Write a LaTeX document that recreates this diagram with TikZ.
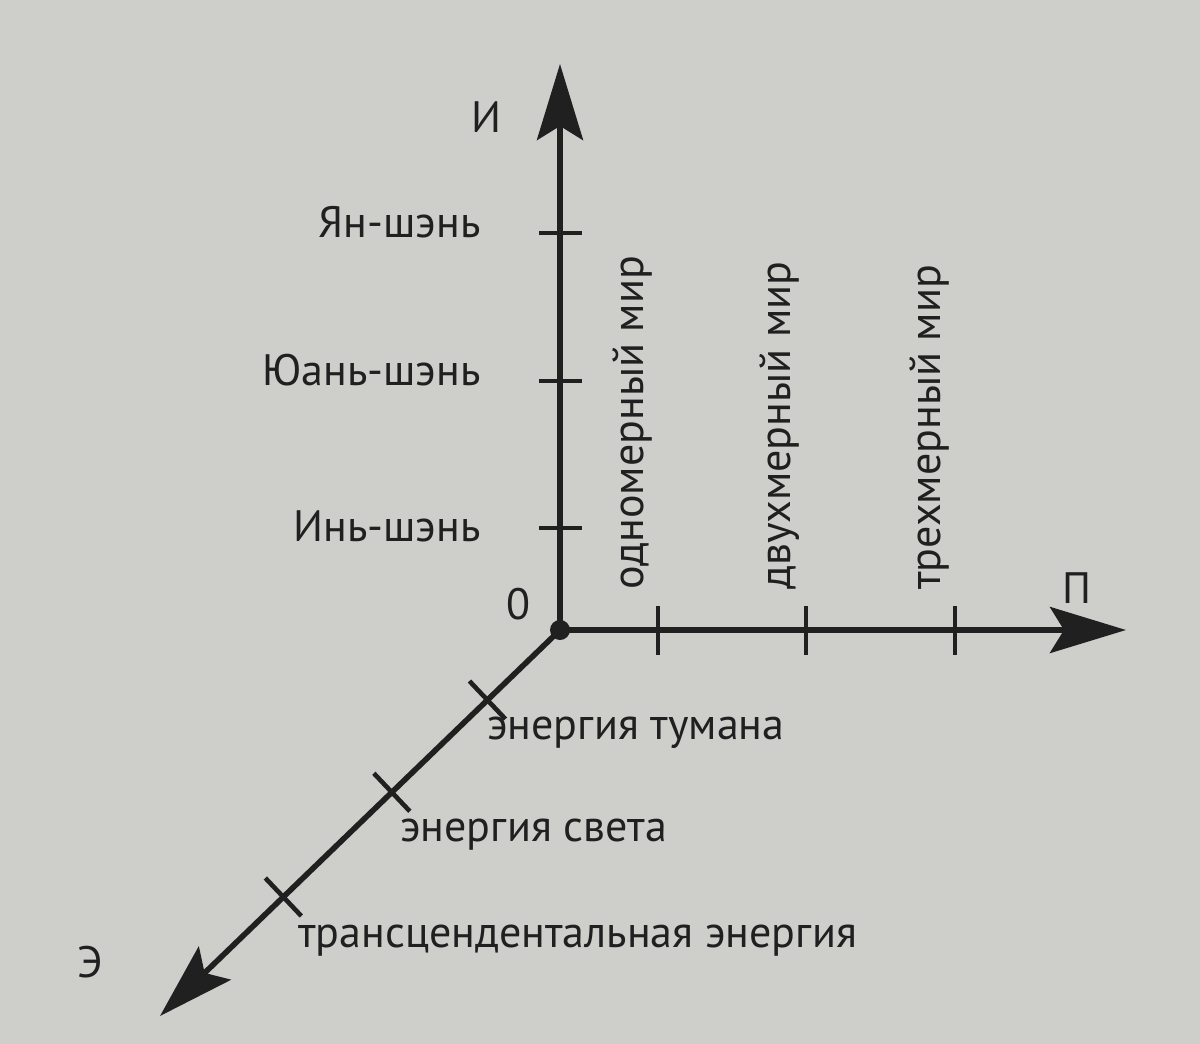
\documentclass[tikz,border=0pt]{standalone}
\usepackage{fontspec}
\setmainfont{PT Sans}
\usetikzlibrary{arrows.meta, positioning, calc}

\begin{document}
\begin{tikzpicture}[
		x=0.5pt, y=-0.5pt,
		>={Stealth[length=38pt, width=23pt, inset=7pt]},
		axis/.style={draw=ink, line width=2.8pt, ->},
		tick/.style={draw=ink, line width=2.3pt},
		lbl/.style={text=ink, inner sep=0pt, font=\fontsize{22}{26}\selectfont},
		dot/.style={circle, fill=ink, inner sep=0pt, minimum size=10pt}]

	\definecolor{ink}{RGB}{32,32,32}
	\definecolor{paper}{RGB}{206,206,203}
	\fill[paper] (0,0) rectangle (1200,1044);
	\useasboundingbox (0,0) rectangle (1200,1044);

	% axes
	\node[dot] (origin) at (560,630) {};
	\coordinate (itip) at (560,64);
	\coordinate (ptip) at (1126,630);
	\coordinate (etip) at (160,1016);
	\draw[axis] (origin.center) -- (itip);
	\draw[axis] (origin.center) -- (ptip);
	\draw[axis] (origin.center) -- (etip);

	\node[lbl] (i) at (486,117) {И};
	\node[lbl] (p) at (1077,588) {П};
	\node[lbl] (e) at (90,962) {Э};
	\node[lbl] (zero) at (518,604) {0};

	% ticks on И
	\foreach \y/\ly/\txt [count=\k] in {233/222/Ян-шэнь, 381/370/Юань-шэнь, 528/526/Инь-шэнь} {
		\draw[tick] (539,\y) -- (582,\y);
		\node[lbl, anchor=east] (s\k) at (481,\ly) {\txt};
	}

	% ticks on П
	\foreach \x/\txt [count=\k] in {658/одномерный мир, 806/двухмерный мир, 955/трехмерный мир} {
		\draw[tick] (\x,606) -- (\x,655);
		\node[lbl, rotate=90, anchor=west] (w\k) at (\x-26,590) {\txt};
	}

	% ticks on Э
	\foreach \t/\txt/\lx/\ly [count=\k] in {101/энергия тумана/487/733, 234/энергия света/400/835, 385/трансцендентальная энергия/298/941} {
		\coordinate (c\k) at ($(origin.center)!\t/556.6!(etip)$);
		\draw[tick] ([shift={(-18,-19)}]c\k) -- ([shift={(18,19)}]c\k);
		\node[lbl, anchor=west] (n\k) at (\lx,\ly) {\txt};
	}
\end{tikzpicture}
\end{document}
